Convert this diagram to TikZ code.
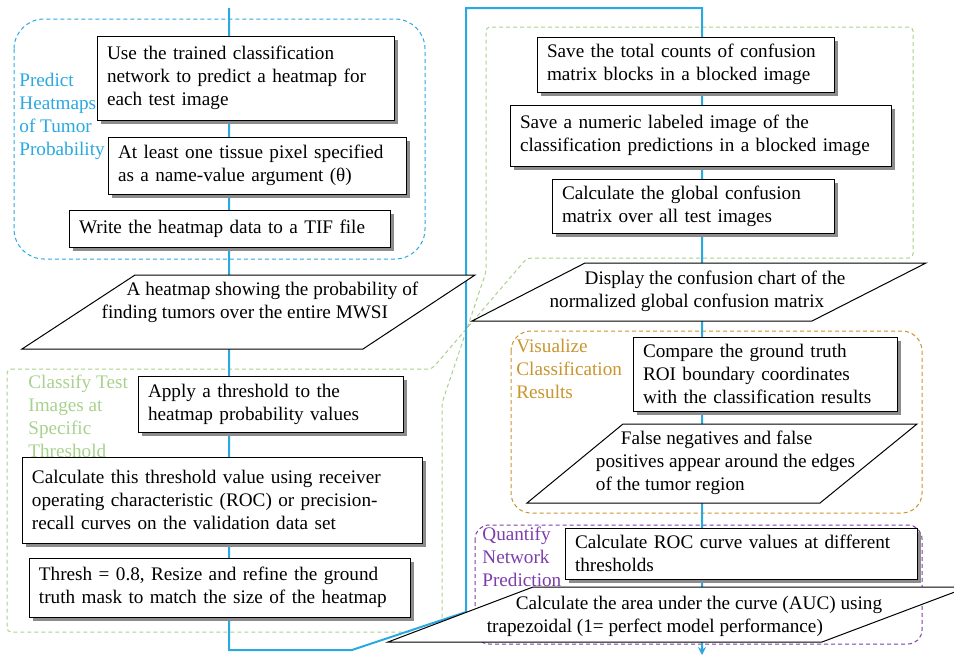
\documentclass[tikz,border=0pt]{standalone}
\usepackage{fontspec}
\setmainfont{Liberation Serif}
\usetikzlibrary{shadows,arrows.meta}
\definecolor{flowblue}{HTML}{2AA8E0}
\definecolor{grpgreen}{HTML}{A9D18E}
\definecolor{grpgold}{HTML}{C8952E}
\definecolor{grppurple}{HTML}{7D3DAA}
\hyphenpenalty=10000
\exhyphenpenalty=10000

\begin{document}
\begin{tikzpicture}[x=0.5pt, y=-0.5pt, font=\fontsize{9.6}{11.5}\selectfont]
  \tikzset{
    box/.style={draw, fill=white, line width=0.5pt, align=left,
                inner xsep=5pt, inner ysep=2pt,
                drop shadow={shadow xshift=2pt, shadow yshift=-2pt,
                             fill=black!45, opacity=1}},
    para/.style={draw, fill=white, line width=0.5pt},
    ptext/.style={align=left, inner sep=0pt},
    grp/.style={line width=0.5pt, dash pattern=on 2pt off 1.5pt},
    glabel/.style={anchor=west, align=left, inner sep=0pt},
    flow/.style={flowblue, line width=1pt},
  }
  \clip (0,0) rectangle (954,655);

  % group outlines
  \draw[grp, grpgreen, rounded corners=2pt] (7,369) -- (432,369) -- (527,258)
    -- (913,258) -- (913,27) -- (486,27) -- (486,272) -- (442,403)
    -- (442,632) -- (7,632) -- cycle;
  \draw[grp, flowblue, rounded corners=15pt] (14,19) rectangle (425,259);
  \draw[grp, grpgold, rounded corners=10pt] (511,331) rectangle (922,513);
  \draw[grp, grppurple, rounded corners=7pt] (475,525) rectangle (922,644);

  \node[glabel, text=flowblue] (lpredict) at (19,116) {Predict\\Heatmaps\\of Tumor\\Probability};
  \node[glabel, text=grpgreen] (lclassify) at (28,416) {Classify Test\\Images at\\Specific\\Threshold};
  \node[glabel, text=grpgold] (lvisual) at (516,369) {Visualize\\Classification\\Results};
  \node[glabel, text=grppurple] (lquant) at (482,557) {Quantify\\Network\\Prediction};

  % flow line
  \coordinate (fs) at (229,8);
  \coordinate (fa) at (229,650);
  \coordinate (fb) at (352,650);
  \coordinate (fc) at (466,612);
  \coordinate (fd) at (466,8);
  \coordinate (fe) at (702,8);
  \coordinate (ff) at (702,655);
  \draw[flow, -{Stealth[length=4pt,width=4pt]}] (fs) -- (fa) -- (fb) -- (fc)
    -- (fd) -- (fe) -- (ff);

  % left column
  \node[box, text width=138.5pt, minimum height=42pt] (use) at (245.5,78)
    {Use the trained classification\\network to predict a heatmap for\\each test image};
  \node[box, text width=139pt, minimum height=28.5pt] (pixel) at (257,165.5)
    {At least one tissue pixel specified\\as a name-value argument (θ)};
  \node[box, text width=150.5pt, minimum height=18.5pt] (tif) at (229.5,228.5)
    {Write the heatmap data to a TIF file};

  \draw[para] (135,275) -- (475,275) -- (363,349) -- (22,349) -- cycle;
  \node[ptext] (heat) at (260,302)
    {\hspace*{12.5pt}A heatmap showing the probability of\\finding tumors over the entire MWSI};

  \node[box, text width=122.5pt, minimum height=28pt] (apply) at (270.5,404)
    {Apply a threshold to the\\heatmap probability values};
  \node[box, text width=190pt, minimum height=43pt] (roccalc) at (222,500)
    {Calculate this threshold value using receiver\\operating characteristic (ROC) or precision-\\recall curves on the validation data set};
  \node[box, text width=180.5pt, minimum height=29.5pt] (thresh) at (219.5,587.5)
    {Thresh = 0.8, Resize and refine the ground\\truth mask to match the size of the heatmap};

  % right column
  \node[box, text width=138.5pt, minimum height=27.5pt] (counts) at (685.5,64.5)
    {Save the total counts of confusion\\matrix blocks in a blocked image};
  \node[box, text width=180.5pt, minimum height=30.5pt] (labeled) at (700.5,135.5)
    {Save a numeric labeled image of the\\classification predictions in a blocked image};
  \node[box, text width=131pt, minimum height=27pt] (global) at (693,206)
    {Calculate the global confusion\\matrix over all test images};

  \draw[para] (585,263) -- (926,263) -- (812,321) -- (472,321) -- cycle;
  \node[ptext] (chart) at (697.5,291)
    {\hspace*{17.5pt}Display the confusion chart of the\\normalized global confusion matrix};

  \node[box, text width=122pt, minimum height=37pt] (compare) at (765,374)
    {Compare the ground truth\\ROI boundary coordinates\\with the classification results};

  \draw[para] (623,424) -- (917,424) -- (820,503) -- (527,503) -- cycle;
  \node[ptext] (edges) at (725.5,462.5)
    {\hspace*{12.5pt}False negatives and false\\positives appear around the edges\\of the tumor region};

  \node[box, text width=166pt, minimum height=25.5pt] (rocval) at (741,553.5)
    {Calculate ROC curve values at different\\thresholds};

  \draw[para] (533,587) -- (968,587) -- (822,642) -- (388,642) -- cycle;
  \node[ptext] (auc) at (684.5,616)
    {\hspace*{14.5pt}Calculate the area under the curve (AUC) using\\trapezoidal (1= perfect model performance)};
\end{tikzpicture}
\end{document}
